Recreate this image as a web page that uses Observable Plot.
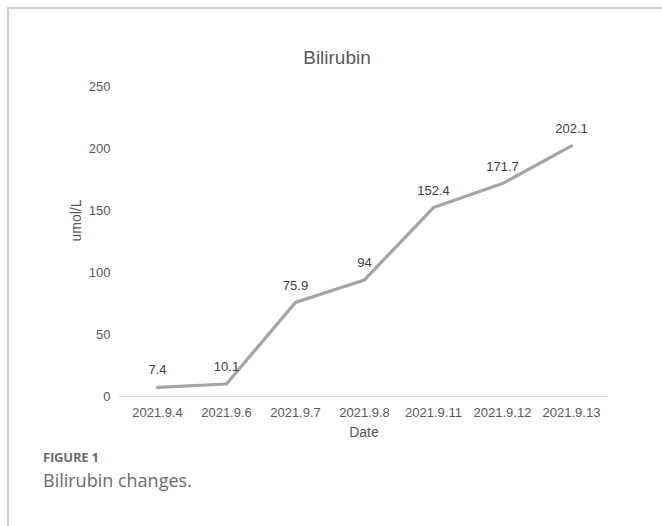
<!DOCTYPE html>
<html>
<head>
<meta charset="utf-8">
<script src="https://cdn.jsdelivr.net/npm/d3@7"></script>
<script src="https://cdn.jsdelivr.net/npm/@observablehq/plot@0.6"></script>
<style>
  html, body { margin: 0; padding: 0; background: #fff; width: 662px; height: 526px; overflow: hidden; }
  #frame { position: absolute; left: 7px; top: 7px; width: 662px; height: 530px; border-left: 2px solid #cfcfcf; border-top: 2px solid #cfcfcf; }
  #chart { position: absolute; left: 0; top: 0; }
  #fig { position: absolute; left: 43px; top: 448px; font-family: "Open Sans", sans-serif; font-weight: 700; font-size: 13px; color: #6b6b6b; letter-spacing: -0.2px; }
  #cap { position: absolute; left: 43px; top: 468px; font-family: "Open Sans", sans-serif; font-size: 18px; color: #6b6b6b; }
</style>
</head>
<body>
<div id="frame"></div>
<div id="chart"></div>
<div id="fig">FIGURE 1</div>
<div id="cap">Bilirubin changes.</div>
<script>
const dates = ["2021.9.4", "2021.9.6", "2021.9.7", "2021.9.8", "2021.9.11", "2021.9.12", "2021.9.13"];
const values = [7.4, 10.1, 75.9, 94, 152.4, 171.7, 202.1];
const yTicks = [0, 50, 100, 150, 200, 250];
const title = "Bilirubin";
const yLabel = "umol/L";
const xLabel = "Date";

const data = dates.map((d, i) => ({date: d, value: values[i]}));

const chart = Plot.plot({
  width: 662,
  height: 450,
  marginLeft: 119,
  marginRight: 54,
  marginTop: 86,
  marginBottom: 54,
  style: {fontFamily: "'Liberation Sans', Arial, sans-serif", fontSize: "13px", color: "#595959", background: "transparent"},
  x: {type: "point", domain: dates, padding: 0.5},
  y: {domain: [0, 250]},
  marks: [
    Plot.ruleY([0], {stroke: "#d9d9d9", strokeWidth: 1.2}),
    Plot.axisY({ticks: yTicks, tickSize: 0, tickPadding: 9, label: null, fill: "#595959", fontSize: 13}),
    Plot.axisX({tickSize: 0, tickPadding: 11, label: null, fill: "#595959", fontSize: 13}),
    Plot.line(data, {x: "date", y: "value", stroke: "#a5a5a5", strokeWidth: 3.2}),
    Plot.text(data, {x: "date", y: "value", text: d => String(d.value), dy: -17, fill: "#404040", fontSize: 13}),
    Plot.text([title], {frameAnchor: "top", dx: -27, dy: -36, fill: "#595959", fontSize: 19}),
    Plot.text([yLabel], {frameAnchor: "left", dx: -43, rotate: -90, fill: "#595959", fontSize: 14}),
    Plot.text([xLabel], {frameAnchor: "bottom", dy: 40, fill: "#595959", fontSize: 14})
  ]
});
document.getElementById("chart").appendChild(chart);
</script>
</body>
</html>
